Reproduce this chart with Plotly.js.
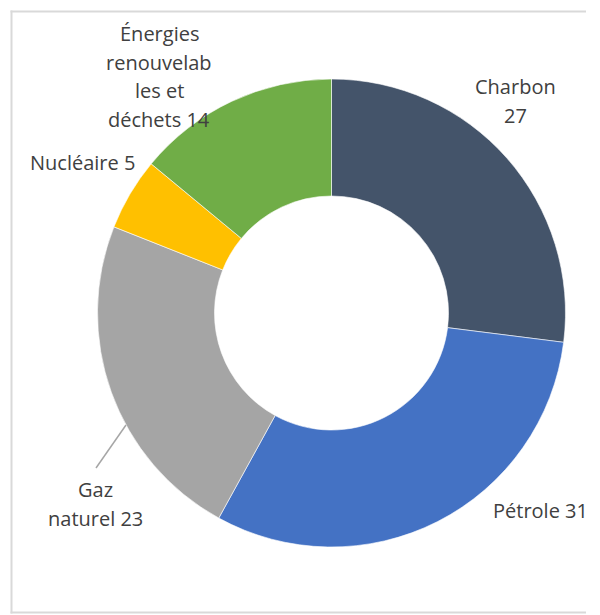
<!DOCTYPE html>
<html>
<head>
<meta charset="utf-8">
<script src="https://cdn.plot.ly/plotly-3.0.1.min.js"></script>
<style>
  html, body { margin: 0; padding: 0; background: #ffffff; }
  #chart { width: 586px; height: 615px; overflow: hidden; }
</style>
</head>
<body>
<div id="chart"></div>
<script>
// ---- Data ----
const categories = ["Charbon", "Pétrole", "Gaz naturel", "Nucléaire", "Énergies renouvelables et déchets"];
const values = [27, 31, 23, 5, 14];
// label text as wrapped in the reference (line breaks as "|")
const wrappedLabels = ["Charbon|", "Pétrole ", "Gaz|naturel ", "Nucléaire ", "Énergies|renouvelab|les et|déchets "];
const colors = ["#44546A", "#4472C4", "#A5A5A5", "#FFC000", "#70AD47"];

// ---- Layout helpers ----
const W = 586, H = 615;
const px = x => x / W;
const py = y => 1 - y / H;

// label anchor (center of first line) in pixels, per category
const labelPos = [
  {x: 515, y: 86, anchor: "center"},
  {x: 491, y: 510, anchor: "left"},
  {x: 95, y: 489, anchor: "center"},
  {x: 82, y: 163, anchor: "center"},
  {x: 159, y: 33, anchor: "center"}
];
const lineGap = 29;

const annotations = [];
categories.forEach((c, i) => {
  const lines = (wrappedLabels[i] + values[i]).split("|");
  lines.forEach((ln, k) => {
    annotations.push({
      xref: "paper", yref: "paper",
      x: px(labelPos[i].x), y: py(labelPos[i].y + k * lineGap),
      xanchor: labelPos[i].anchor, yanchor: "middle",
      text: ln, showarrow: false,
      font: {family: "Open Sans, sans-serif", size: 20, color: "#404040"}
    });
  });
});

const cx = 331.5, cy = 313, r = 234;

const trace = {
  type: "pie",
  labels: categories,
  values: values,
  hole: 0.5,
  sort: false,
  direction: "clockwise",
  rotation: 0,
  textinfo: "none",
  hoverinfo: "label+value",
  showlegend: false,
  marker: {colors: colors, line: {color: "#ffffff", width: 0.6}},
  domain: {x: [px(cx - r), px(cx + r)], y: [py(cy + r), py(cy - r)]}
};

const frameColor = "#D9D9D9";
const layout = {
  width: W, height: H,
  margin: {l: 0, r: 0, t: 0, b: 0},
  paper_bgcolor: "#ffffff",
  plot_bgcolor: "#ffffff",
  showlegend: false,
  annotations: annotations,
  shapes: [
    {type: "line", xref: "paper", yref: "paper", x0: px(10.5), y0: py(11.5), x1: px(586), y1: py(11.5), line: {color: frameColor, width: 2}},
    {type: "line", xref: "paper", yref: "paper", x0: px(11.5), y0: py(10.5), x1: px(11.5), y1: py(613.5), line: {color: frameColor, width: 2}},
    {type: "line", xref: "paper", yref: "paper", x0: px(10.5), y0: py(612.5), x1: px(586), y1: py(612.5), line: {color: frameColor, width: 2}},
    {type: "line", xref: "paper", yref: "paper", x0: px(96), y0: py(468), x1: px(126), y1: py(425), line: {color: "#A6A6A6", width: 1.5}}
  ]
};

Plotly.newPlot("chart", [trace], layout, {displayModeBar: false, staticPlot: true});
</script>
</body>
</html>
